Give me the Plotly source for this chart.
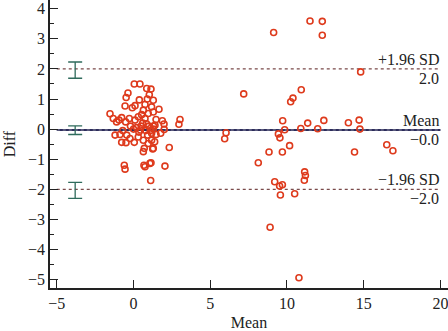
import plotly.graph_objects as go

# Data points (Mean, Diff)
mean_vals = [
    0.05, 0.42, 0.86, 1.14, -0.36, -0.48, 1.03, 0.90, 0.38, -0.55, 0.10, 0.75, 1.29, -0.08, 0.64, 1.18,
    -1.53, -1.32, -0.94, -0.77, -0.51, -0.27, 0.10, 0.31, 0.53, 0.75, 0.96, 1.29, -1.10,
    1.66, 1.47, 1.88, 1.99, 1.40, 2.00, 1.29, 1.77, 1.47, 1.18, 3.03, 2.96, 1.38, 1.25, 2.33, 2.05, 1.12,
    -1.20, -0.88, -0.44, -0.77, -0.23, 0.05, 0.31, 0.64, 0.92, 0.96, 1.18, 0.70, 0.64, 1.29,
    -0.60, -0.55, 0.75, 1.07, 0.68, 1.14, -0.49,
    0.20, 0.50, 0.80, 0.00, 0.35, 1.00, 0.60, -0.20, 1.10, 0.85, 0.45, 1.30, -0.70,
    6.03, 5.94, 7.18,
    9.13, 11.50, 12.30, 12.30, 14.80, 10.93, 10.39, 10.24, 9.72, 9.85, 9.44, 9.54, 10.90, 11.35,
    12.00, 12.40, 14.00, 14.70, 14.75, 10.17, 14.40, 16.50, 16.90, 8.83, 9.70, 8.13, 11.15, 11.20,
    11.13, 9.20, 9.52, 9.70, 9.57, 10.50, 8.90, 10.78,
]
diff_vals = [
    1.50, 1.50, 1.35, 1.33, 1.20, 1.05, 1.14, 1.00, 0.97, 0.77, 0.78, 0.82, 0.96, 0.71, 0.63, 0.74,
    0.51, 0.35, 0.30, 0.38, 0.24, 0.35, 0.30, 0.41, 0.48, 0.35, 0.52, 0.57, 0.24,
    0.66, 0.32, 0.28, 0.17, 0.13, -0.01, 0.00, -0.14, -0.18, -0.14, 0.32, 0.16, -0.42, -0.66, -0.61, -1.23, -1.71,
    -0.20, -0.18, -0.20, -0.44, -0.31, -0.44, -0.26, -0.37, -0.20, -0.48, -0.37, -0.64, -0.75, -0.64,
    -1.20, -1.33, -1.25, -1.14, -1.20, -1.12, -0.45,
    0.05, 0.10, -0.05, 0.00, -0.10, 0.10, 0.20, 0.10, -0.05, 0.18, -0.03, 0.10, -0.05,
    -0.12, -0.32, 1.17,
    3.21, 3.59, 3.58, 3.12, 1.90, 1.31, 1.03, 0.91, 0.28, -0.02, -0.16, -0.29, 0.02, 0.20,
    0.01, 0.29, 0.21, 0.30, 0.00, -0.55, -0.76, -0.52, -0.72, -0.76, -0.76, -1.12, -1.42, -1.54,
    -1.70, -1.75, -1.89, -1.85, -2.19, -2.15, -3.26, -4.94,
]

# Bland-Altman statistics
mean_diff = -0.03
upper_loa = 2.0
lower_loa = -2.0
line_x = [-5, 20]
ci_x = -3.8
ci_center = [1.96, -0.035, -2.035]
ci_half = [0.27, 0.145, 0.265]

font_family = "Liberation Serif"
fig = go.Figure()

fig.add_trace(go.Scatter(x=line_x, y=[upper_loa, upper_loa], mode="lines",
                         line=dict(color="#7a4a4a", width=1.2, dash="dot"), hoverinfo="skip"))
fig.add_trace(go.Scatter(x=line_x, y=[lower_loa, lower_loa], mode="lines",
                         line=dict(color="#7a4a4a", width=1.2, dash="dot"), hoverinfo="skip"))
fig.add_trace(go.Scatter(x=line_x, y=[mean_diff, mean_diff], mode="lines",
                         line=dict(color="#2d2d5c", width=2), hoverinfo="skip"))
fig.add_trace(go.Scatter(x=line_x, y=[mean_diff, mean_diff], mode="lines",
                         line=dict(color="#8a8aa0", width=1, dash="dot"), hoverinfo="skip"))

fig.add_trace(go.Scatter(
    x=[ci_x] * 3, y=ci_center, mode="markers",
    marker=dict(size=1, color="rgba(0,0,0,0)"),
    error_y=dict(type="data", array=ci_half, symmetric=True, color="#2f6b5c", thickness=1.3, width=7),
))

fig.add_trace(go.Scatter(
    x=mean_vals, y=diff_vals, mode="markers",
    marker=dict(symbol="circle-open", size=6, color="#de3a1c", line=dict(width=1.6)),
))

ann_font = dict(family=font_family, size=16, color="#222")
anns = [
    ("+1.96 SD", upper_loa, "bottom"), ("2.0", upper_loa, "top"),
    ("Mean", mean_diff, "bottom"), ("\u22120.0", mean_diff, "top"),
    ("\u22121.96 SD", lower_loa, "bottom"), ("\u22122.0", lower_loa, "top"),
]
for text, yv, ya in anns:
    fig.add_annotation(x=20, y=yv, xref="x", yref="y", text=text, showarrow=False,
                       xanchor="right", yanchor=ya, font=ann_font, borderpad=0)

fig.update_layout(
    width=448, height=331,
    margin=dict(l=50, r=0, t=0, b=43, autoexpand=False),
    plot_bgcolor="white", paper_bgcolor="white",
    showlegend=False,
    font=dict(family=font_family, size=16, color="#222"),
    xaxis=dict(range=[-5.44, 20.49], tickmode="array", tickvals=[-5, 0, 5, 10, 15, 20],
               ticks="inside", ticklen=8, tickwidth=1.3, tickcolor="#222", automargin=False,
               ticklabeloverflow="allow",
               showline=True, linecolor="#222", linewidth=1.5, showgrid=False, zeroline=False,
               title=dict(text="Mean", font=dict(size=16), standoff=8),
               tickfont=dict(size=16)),
    yaxis=dict(range=[-5.28, 4.29], tickmode="array", tickvals=[-5, -4, -3, -2, -1, 0, 1, 2, 3, 4],
               ticks="inside", ticklen=8, tickwidth=1.3, tickcolor="#222", automargin=False,
               ticklabeloverflow="allow",
               minor=dict(ticks="inside", ticklen=4, dtick=0.5, tickcolor="#222", tickwidth=1.3),
               showline=True, linecolor="#222", linewidth=1.5, showgrid=False, zeroline=False,
               title=dict(text="Diff", font=dict(size=16), standoff=8),
               tickfont=dict(size=16)),
)

fig.write_html("out.html", config={"displayModeBar": False},
               post_script="document.body.style.margin='0';document.body.style.overflow='hidden';")
